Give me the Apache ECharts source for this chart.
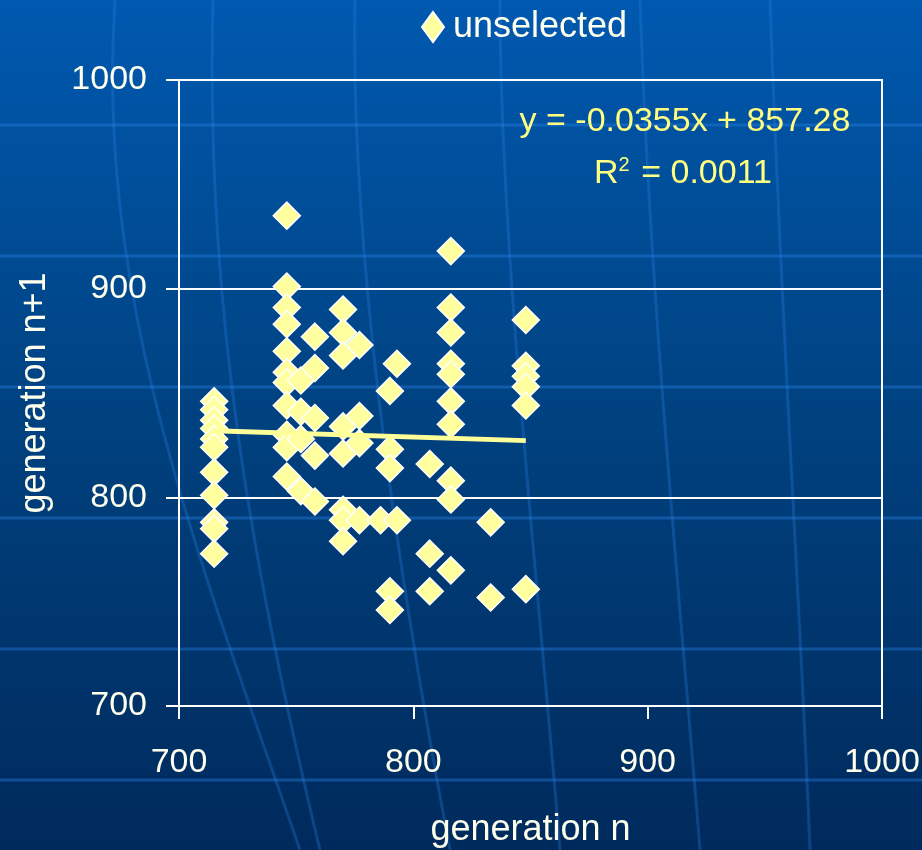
<!DOCTYPE html>
<html>
<head>
<meta charset="utf-8">
<script src="https://cdn.jsdelivr.net/npm/echarts@6/dist/echarts.min.js"></script>
<style>
html,body{margin:0;padding:0;background:#003a78;}
#chart{width:922px;height:850px;}
</style>
</head>
<body>
<div id="chart"></div>
<script>
// ---- data ----
const seriesName = 'unselected';
const xTicks = [700, 800, 900, 1000];
const yTicks = [700, 800, 900, 1000];
const genN = [
  715,715,715,715,715,715,715,715,715,715,715,
  746,746,746,746,746,746,746,746,746,746,746,
  752,752,752,752,
  758,758,758,758,758,
  770,770,770,770,770,770,770,770,
  777,777,777,777,
  786,
  790,790,790,790,790,
  793,793,
  807,807,807,
  816,816,816,816,816,816,816,816,816,816,
  833,833,
  848,848,848,848,848,848
];
const genN1 = [
  846,842,837,833,828,824,812,801,788,785,773,
  935,901,891,883,870,860,855,844,830,824,810,
  856,841,828,803,
  877,862,838,820,798,
  890,879,868,834,821,794,789,779,
  873,839,826,789,
  789,
  851,823,814,755,746,
  864,789,
  816,773,755,
  918,891,879,864,859,846,835,808,799,765,
  788,752,
  885,863,858,853,844,756
];
const trendSlope = -0.0355;
const trendIntercept = 857.28;
const eqLine1 = 'y = -0.0355x + 857.28';
const eqR2 = '0.0011';

// ---- build ----
const points = genN.map((x, i) => [x, genN1[i]]);
const xMinData = Math.min(...genN), xMaxData = Math.max(...genN);
const trend = [xMinData, xMaxData].map(x => [x, trendSlope * x + trendIntercept]);

const chart = echarts.init(document.getElementById('chart'), null, {renderer: 'canvas'});
const FONT = '"Liberation Sans", Arial, sans-serif';
const G = {left: 179, top: 80, width: 703, height: 626};

// decorative background lines
const deco = [];
[125, 256, 387, 518, 649, 780].forEach(y => {
  deco.push({type: 'line', silent: true, z: -10,
    shape: {x1: 0, y1: y, x2: 922, y2: y},
    style: {stroke: 'rgba(40,130,230,0.4)', lineWidth: 3}});
});
const curves = [
  [[115,0],[95,300],[200,560],[300,850]],
  [[213,0],[205,300],[250,560],[320,850]],
  [[355,0],[350,250],[395,560],[450,850]],
  [[500,0],[500,250],[540,600],[560,850]],
  [[640,0],[650,300],[680,600],[700,850]],
  [[770,0],[780,300],[800,600],[810,850]]
];
curves.forEach(c => {
  deco.push({type: 'bezierCurve', silent: true, z: -10,
    shape: {x1: c[0][0], y1: c[0][1], cpx1: c[1][0], cpy1: c[1][1], cpx2: c[2][0], cpy2: c[2][1], x2: c[3][0], y2: c[3][1]},
    style: {stroke: 'rgba(40,130,230,0.3)', lineWidth: 3, fill: null}});
});

const plain = v => String(v);

const option = {
  animation: false,
  backgroundColor: {
    type: 'linear', x: 0, y: 0, x2: 0, y2: 1,
    colorStops: [{offset: 0, color: '#0059b0'}, {offset: 0.5, color: '#00417f'}, {offset: 1, color: '#002a5c'}]
  },
  textStyle: {fontFamily: FONT},
  legend: {
    data: [seriesName],
    top: 4, left: 416,
    itemWidth: 22, itemHeight: 30, itemGap: 8,
    icon: 'diamond',
    textStyle: {color: '#ffffee', fontSize: 36, fontFamily: FONT, padding: [0, 0, 0, 4]},
  },
  grid: Object.assign({show: true, borderColor: '#ffffff', borderWidth: 2, backgroundColor: 'transparent',
    containLabel: false, outerBoundsMode: 'none'}, G),
  xAxis: {
    type: 'value', min: xTicks[0], max: xTicks[xTicks.length - 1], interval: xTicks[1] - xTicks[0],
    name: 'generation n', nameLocation: 'middle', nameGap: 106,
    nameTextStyle: {color: '#ffffee', fontSize: 36, fontFamily: FONT},
    axisLine: {show: true, onZero: false, lineStyle: {color: '#ffffff', width: 2}},
    axisTick: {show: true, inside: false, length: 13, lineStyle: {color: '#ffffff', width: 2}},
    axisLabel: {color: '#ffffee', fontSize: 34, margin: 40, fontFamily: FONT, formatter: plain},
    splitLine: {show: false}
  },
  yAxis: {
    type: 'value', min: yTicks[0], max: yTicks[yTicks.length - 1], interval: yTicks[1] - yTicks[0],
    name: 'generation n+1', nameLocation: 'middle', nameGap: 126,
    nameTextStyle: {color: '#ffffee', fontSize: 36, fontFamily: FONT},
    axisLine: {show: true, onZero: false, lineStyle: {color: '#ffffff', width: 2}},
    axisTick: {show: true, inside: false, length: 13, lineStyle: {color: '#ffffff', width: 2}},
    axisLabel: {color: '#ffffee', fontSize: 34, margin: 32, fontFamily: FONT, formatter: plain},
    splitLine: {show: true, lineStyle: {color: '#ffffff', width: 2}}
  },
  series: [
    {
      name: seriesName, type: 'scatter', data: points,
      symbol: 'diamond', symbolSize: 27,
      itemStyle: {color: '#ffffa0', borderColor: '#ffffff', borderWidth: 1.5, opacity: 1},
      emphasis: {disabled: true}, z: 3
    },
    {
      name: 'trend', type: 'line', data: trend, showSymbol: false,
      lineStyle: {color: '#ffff99', width: 5}, z: 4, silent: true
    }
  ],
  graphic: deco.concat([
    {type: 'text', x: 685, y: 122, z: 10, silent: true,
      style: {text: eqLine1, fill: '#ffff80', font: '34px ' + FONT, align: 'center', verticalAlign: 'middle'}},
    {type: 'text', x: 683, y: 173, z: 10, silent: true,
      style: {text: '{a|R}{s|2}{a| = ' + eqR2 + '}', fill: '#ffff80', align: 'center', verticalAlign: 'middle',
        rich: {a: {fontSize: 34, fontFamily: FONT, color: '#ffff80', verticalAlign: 'bottom'},
               s: {fontSize: 20, fontFamily: FONT, color: '#ffff80', verticalAlign: 'top', padding: [0, 2, 16, 0]}}}}
  ])
};
chart.setOption(option);
</script>
</body>
</html>
